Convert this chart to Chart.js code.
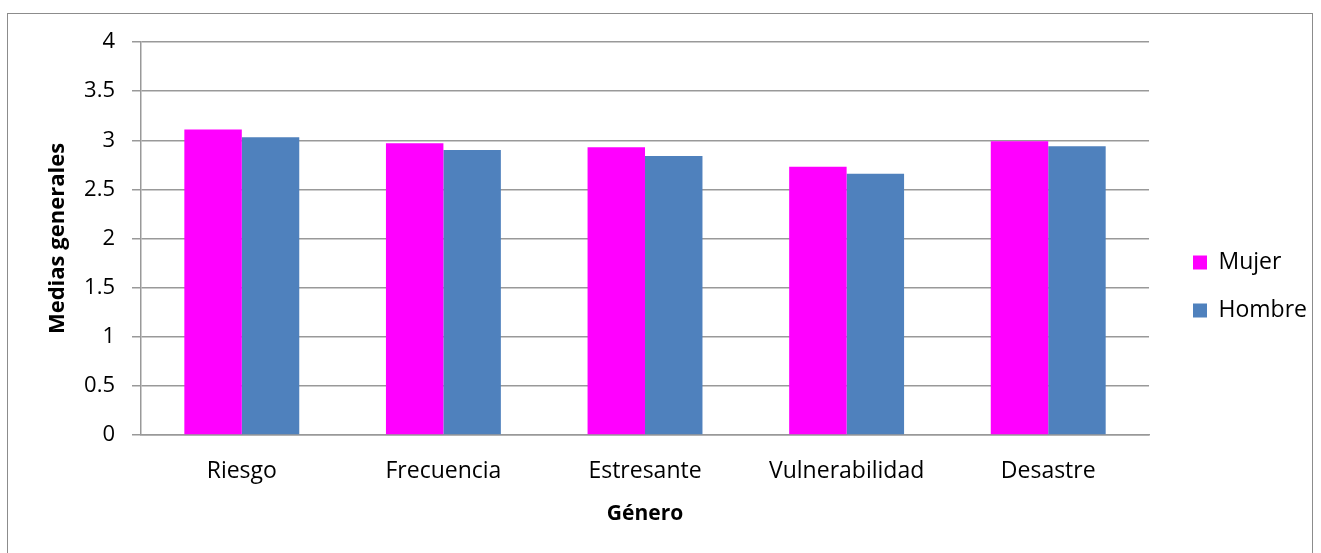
<!DOCTYPE html>
<html>
<head>
<meta charset="utf-8">
<script src="https://cdn.jsdelivr.net/npm/chart.js@4/dist/chart.umd.min.js"></script>
<style>
  body { margin: 0; background: #fff; }
  #marco { position: absolute; left: 7px; top: 13px; width: 1306px; height: 560px; border: 1.5px solid #8c8c8c; box-sizing: border-box; }
  #zona { position: absolute; left: 0; top: 0; width: 1321px; height: 553px; }
</style>
</head>
<body>
<div id="marco"></div>
<div id="zona"><canvas id="graficoMedias"></canvas></div>
<script>
// Datos
const categorias = ['Riesgo', 'Frecuencia', 'Estresante', 'Vulnerabilidad', 'Desastre'];
const mujer = [3.11, 2.97, 2.93, 2.73, 2.99];
const hombre = [3.03, 2.90, 2.84, 2.66, 2.94];
const ticksY = [0, 0.5, 1, 1.5, 2, 2.5, 3, 3.5, 4];

const fuente = '"Open Sans", "Liberation Sans", sans-serif';

// Coloca la leyenda como en el original (un poco más a la derecha y arriba)
const moverLeyenda = {
    id: 'moverLeyenda',
    afterLayout: function(chart) {
        const ley = chart.legend;
        const dx = 1193 - (ley.left + ley.options.labels.padding);
        ley.left += dx; ley.right += dx;
        ley.top -= 11; ley.bottom -= 11;
    }
};

const ctx = document.getElementById('graficoMedias').getContext('2d');
let graficoMedias = new Chart(ctx, {
    type: 'bar',
    data: {
        labels: categorias,
        datasets: [
            { label: 'Mujer', data: mujer, backgroundColor: '#ff00ff', borderWidth: 0 },
            { label: 'Hombre', data: hombre, backgroundColor: '#4f81bd', borderWidth: 0 }
        ]
    },
    options: {
        responsive: true,
        maintainAspectRatio: false,
        animation: false,
        layout: { padding: { top: 42, right: 23, left: 0, bottom: 0 } },
        datasets: { bar: { categoryPercentage: 0.57, barPercentage: 1 } },
        plugins: {
            tooltip: { enabled: false },
            legend: {
                position: 'right',
                labels: {
                    font: { family: fuente, size: 23 },
                    color: '#000',
                    boxWidth: 14,
                    boxHeight: 14,
                    padding: 25
                }
            }
        },
        scales: {
            x: {
                grid: { display: false, drawTicks: false },
                border: { color: '#999', width: 1.5 },
                ticks: { font: { family: fuente, size: 23 }, color: '#000', padding: 23 },
                title: {
                    display: true, text: 'Género', color: '#000',
                    font: { family: fuente, size: 21, weight: 'bold' },
                    padding: { top: 20, bottom: 26 }
                },
                afterFit: function(scale) { scale.height = 118; }
            },
            y: {
                min: 0, max: 4,
                afterBuildTicks: function(scale) { scale.ticks = ticksY.map(v => ({ value: v })); },
                grid: { color: '#999', lineWidth: 1.5, tickLength: 9 },
                border: { color: '#999', width: 1.5 },
                ticks: {
                    font: { family: fuente, size: 22 }, color: '#000', padding: 17,
                    callback: function(v) { return String(v); }
                },
                title: {
                    display: true, text: 'Medias generales', color: '#000',
                    font: { family: fuente, size: 22, weight: 'bold' },
                    padding: { top: 45, bottom: 0 }
                },
                afterFit: function(scale) { scale.width = 141; }
            }
        }
    },
    plugins: [moverLeyenda]
});
</script>
</body>
</html>
